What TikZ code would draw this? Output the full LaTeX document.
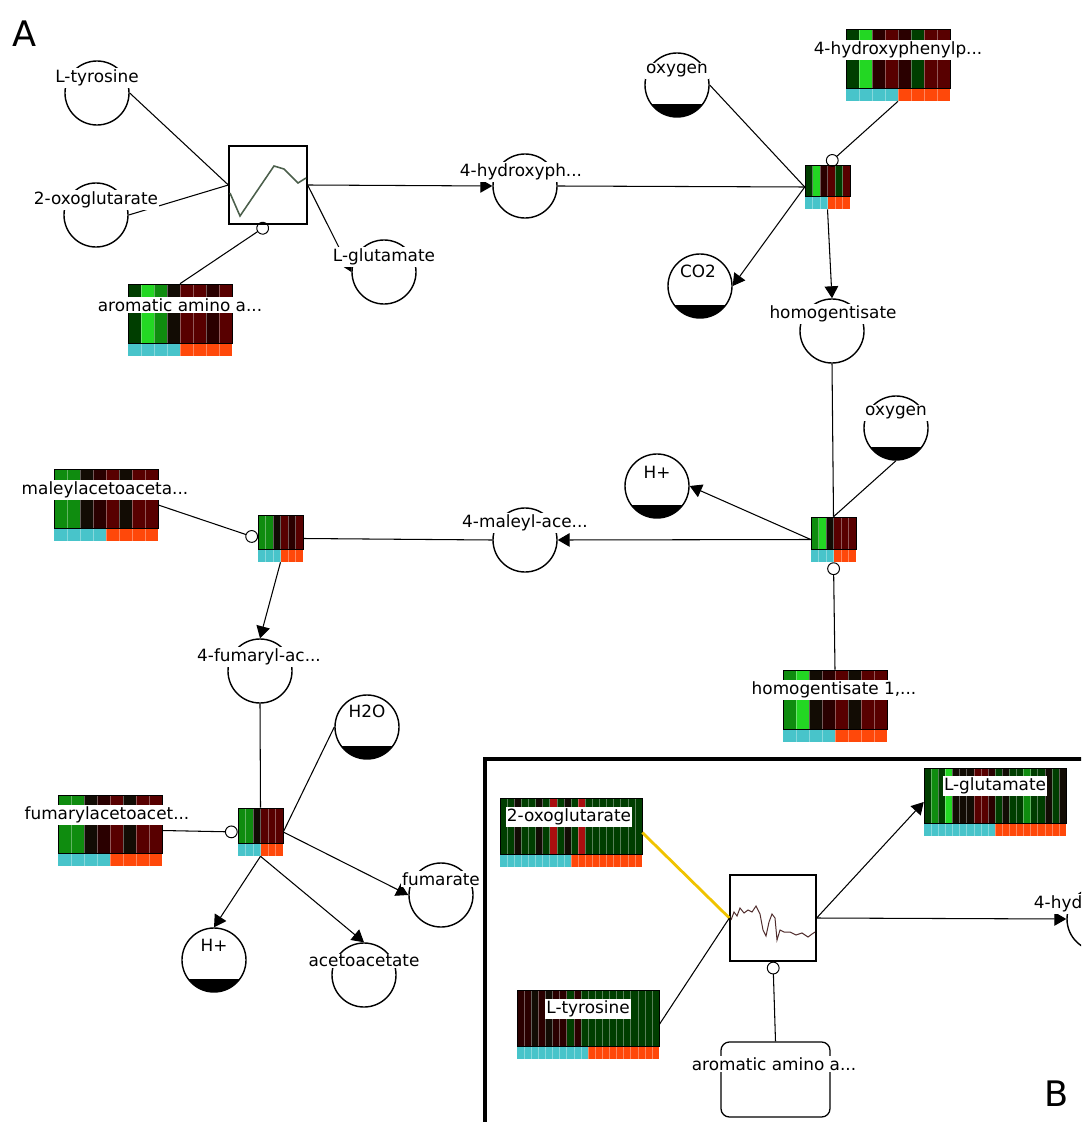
\documentclass[tikz,border=0pt]{standalone}
\usepackage{fontspec}
\setmainfont{DejaVu Sans}
\usetikzlibrary{arrows.meta,positioning,fit}

% heatmap cell colours
\definecolor{dg}{RGB}{0,62,0}
\definecolor{mg}{RGB}{15,140,15}
\definecolor{bg}{RGB}{35,215,35}
\definecolor{nk}{RGB}{18,12,4}
\definecolor{vr}{RGB}{42,0,0}
\definecolor{dr}{RGB}{88,0,0}
\definecolor{rr}{RGB}{170,15,15}
\definecolor{barcyan}{RGB}{72,196,202}
\definecolor{barorange}{RGB}{255,72,10}
\definecolor{chartgray}{RGB}{75,95,75}
\definecolor{chartbrown}{RGB}{80,45,45}
\definecolor{linkyellow}{RGB}{240,195,0}

\tikzset{
  metab/.style={circle, draw, line width=1pt, minimum size=1.6cm, inner sep=0pt, fill=white},
  metabf/.style={metab, path picture={\fill[black] ([yshift=0.32cm]path picture bounding box.south west) rectangle (path picture bounding box.south east);}},
  mlabel/.style={fill=white, inner sep=1pt, font=\fontsize{12}{14}\selectfont},
  enzbox/.style={draw, line width=0.9pt, fill=white, inner sep=0pt},
  hmsep/.style={white, opacity=0.35, line width=0.3pt},
  hmline/.style={black, line width=0.6pt},
  edge/.style={line width=0.75pt},
  prod/.style={edge, -{Triangle[length=3mm,width=3.4mm]}},
  modi/.style={edge, -{Circle[open,length=3.2mm,line width=0.7pt]}},
  panel/.style={font=\fontsize{25}{29}\selectfont}
}

% name, left, top, columns, column width, row height, cyan columns, colours
\newcommand{\hmap}[8]{%
  \foreach \cc [count=\i] in {#8}
    \fill[\cc] ({#2+(\i-1)*#5},#3) rectangle ++(#5,#6);
  \fill[barcyan] (#2,{#3+#6}) rectangle ++({#7*#5},13);
  \fill[barorange] ({#2+#7*#5},{#3+#6}) rectangle ({#2+#4*#5},{#3+#6+13});
  \foreach \i in {2,...,#4}
    \draw[hmsep] ({#2+(\i-1)*#5},#3) -- ++(0,{#6+13});
  \draw[hmline] (#2,#3) rectangle ({#2+#4*#5},{#3+#6});
  \node[fit={(#2,#3) ({#2+#4*#5},{#3+#6+13})}, inner sep=0pt] (#1) {};
}

\begin{document}
\begin{tikzpicture}[x=0.025cm,y=-0.025cm]
  \useasboundingbox (0,0) rectangle (1081,1122);
  \clip (0,0) rectangle (1081,1122);

  % panel A: metabolites
  \node[metab]  (tyr) at (97,93) {};
  \node[metab]  (oxo) at (96,215) {};
  \node[metab]  (hpp) at (525,186) {};
  \node[metab]  (glu) at (384,272) {};
  \node[metabf] (oxa) at (677,85) {};
  \node[metabf] (co2) at (700,286) {};
  \node[metab]  (hom) at (832,331) {};
  \node[metabf] (oxb) at (896,428) {};
  \node[metabf] (hpa) at (657,486) {};
  \node[metab]  (mal) at (525,540) {};
  \node[metab]  (fum) at (260,671) {};
  \node[metabf] (h2o) at (367,727) {};
  \node[metab]  (fmr) at (441,895) {};
  \node[metabf] (hpb) at (214,960) {};
  \node[metab]  (aca) at (364,975) {};

  % panel A: enzymes
  \node[enzbox, minimum width=1.95cm, minimum height=1.95cm] (r1) at (268,185) {};
  \draw[chartgray, line width=1.1pt] (230,193) -- (240,216) -- (274,166) -- (284,169) -- (298,183) -- (306,178);

  \hmap{aro}{128}{284}{8}{13}{59}{4}{dg,bg,mg,nk,dr,dr,vr,dr}
  \hmap{hppd}{846}{29}{8}{13}{59}{4}{dg,bg,vr,dr,vr,dg,dr,dr}
  \hmap{maa}{54}{469}{8}{13}{59}{4}{mg,mg,nk,vr,dr,nk,dr,dr}
  \hmap{hgd}{783}{670}{8}{13}{59}{4}{mg,bg,nk,vr,dr,nk,dr,dr}
  \hmap{faa}{58}{795}{8}{13}{58}{4}{mg,mg,nk,vr,dr,nk,dr,dr}

  \hmap{r2}{805}{165}{6}{7.5}{31}{3}{dg,bg,vr,dr,dg,dr}
  \hmap{r3}{811}{517}{6}{7.5}{32}{3}{mg,bg,nk,dr,dr,dr}
  \hmap{r4}{258}{515}{6}{7.5}{34}{3}{mg,mg,nk,dr,vr,dr}
  \hmap{r5}{238}{808}{6}{7.5}{35}{3}{mg,mg,nk,dr,dr,dr}

  % panel A: edges
  \draw[edge] (tyr.east) -- (r1.west);
  \draw[edge] (oxo.east) -- (r1.west);
  \draw[prod] (r1.east) -- (hpp.west);
  \draw[prod] (r1.east) -- (glu.west);
  \draw[modi] (aro.north) -- (r1.south);

  \draw[edge] (hpp.east) -- (r2.west);
  \draw[edge] (oxa.east) -- (r2.west);
  \draw[prod] (r2.west) -- (co2.east);
  \draw[prod] (r2.south) -- (hom.north);
  \draw[modi] (hppd.south) -- (r2.north);

  \draw[edge] (hom.south) -- (r3.north);
  \draw[edge] (oxb.south) -- (r3.north);
  \draw[prod] (r3.west) -- (hpa.east);
  \draw[prod] (r3.west) -- (mal.east);
  \draw[modi] (hgd.north) -- (r3.south);

  \draw[edge] (mal.west) -- (r4.east);
  \draw[prod] (r4.south) -- (fum.north);
  \draw[modi] (maa.east) -- (r4.west);

  \draw[edge] (fum.south) -- (r5.north);
  \draw[edge] (h2o.west) -- (r5.east);
  \draw[prod] (r5.east) -- (fmr.west);
  \draw[prod] (r5.south) -- (hpb.north);
  \draw[prod] (r5.south) -- (aca.north);
  \draw[modi] (faa.east) -- (r5.west);

  % panel B
  \draw[line width=2.2pt] (485,759) rectangle (1110,1150);
  \node[metab] (hppB) at (1099,919) {};
  \node[enzbox, minimum width=2.15cm, minimum height=2.15cm] (rB) at (773,918) {};
  \draw[chartbrown, line width=0.7pt] (731,920) -- (734,912) -- (737,916) -- (740,908) -- (744,913) -- (748,910) -- (752,912) -- (756,906) -- (760,914) -- (763,930) -- (766,936) -- (769,922) -- (772,914) -- (775,918) -- (777,940) -- (780,930) -- (784,932) -- (790,932) -- (796,935) -- (802,933) -- (808,937) -- (812,934) -- (815,932);
  \node[draw, line width=0.9pt, rounded corners=6pt, minimum width=2.725cm, minimum height=1.875cm] (aroB) at (775.5,1079.5) {};

  \hmap{oxoB}{500}{798}{20}{7.1}{56}{10}{dg,dg,nk,dg,dg,nk,dg,rr,dg,nk,dg,rr,dg,dg,dg,dg,dg,dg,dg,dg}
  \hmap{tyrB}{517}{990}{20}{7.1}{56}{10}{vr,vr,nk,vr,nk,vr,vr,dg,vr,dg,dg,dg,dg,dg,dg,dg,dg,dg,dg,dg}
  \hmap{gluB}{924}{768}{20}{7.1}{55}{10}{dg,mg,dg,bg,nk,nk,nk,dr,dr,vr,dg,nk,dg,dg,mg,dg,dg,nk,dg,nk}

  \draw[edge, linkyellow, line width=2pt] (oxoB.east) -- (rB.west);
  \draw[edge] (tyrB.east) -- (rB.west);
  \draw[prod] (rB.east) -- (gluB.west);
  \draw[prod] (rB.east) -- (hppB.west);
  \draw[modi] (aroB.north) -- (rB.south);

  % labels
  \node[mlabel] (tyr-l) at (97,78) {L-tyrosine};
  \node[mlabel] (oxo-l) at (96,200) {2-oxoglutarate};
  \node[mlabel] (hpp-l) at (521,172) {4-hydroxyph...};
  \node[mlabel] (glu-l) at (384,257) {L-glutamate};
  \node[mlabel] (oxa-l) at (677,71) {oxygen};
  \node[mlabel] (co2-l) at (698,271) {CO2};
  \node[mlabel] (hom-l) at (833,314) {homogentisate};
  \node[mlabel] (oxb-l) at (896,413) {oxygen};
  \node[mlabel] (hpa-l) at (657,472) {H+};
  \node[mlabel] (mal-l) at (525,523) {4-maleyl-ace...};
  \node[mlabel] (fum-l) at (259,657) {4-fumaryl-ac...};
  \node[mlabel] (h2o-l) at (367,711) {H2O};
  \node[mlabel] (fmr-l) at (441,879) {fumarate};
  \node[mlabel] (hpb-l) at (214,945) {H+};
  \node[mlabel] (aca-l) at (364,961) {acetoacetate};

  \node[mlabel] (aro-l) at (180,305) {aromatic amino a...};
  \node[mlabel] (hppd-l) at (898,50) {4-hydroxyphenylp...};
  \node[mlabel] (maa-l) at (105,490) {maleylacetoaceta...};
  \node[mlabel] (hgd-l) at (834,690) {homogentisate 1,...};
  \node[mlabel] (faa-l) at (107,815) {fumarylacetoacet...};

  \node[mlabel] (oxoB-l) at (569,817) {2-oxoglutarate};
  \node[mlabel] (tyrB-l) at (588,1009) {L-tyrosine};
  \node[mlabel] (gluB-l) at (995,786) {L-glutamate};
  \node[mlabel] (aroB-l) at (774,1064) {aromatic amino a...};
  \node[mlabel] (hppB-l) at (1095,904) {4-hydroxyph...};

  \node[panel] (panA) at (25,34) {A};
  \node[panel] (panB) at (1057,1094) {B};
\end{tikzpicture}
\end{document}
